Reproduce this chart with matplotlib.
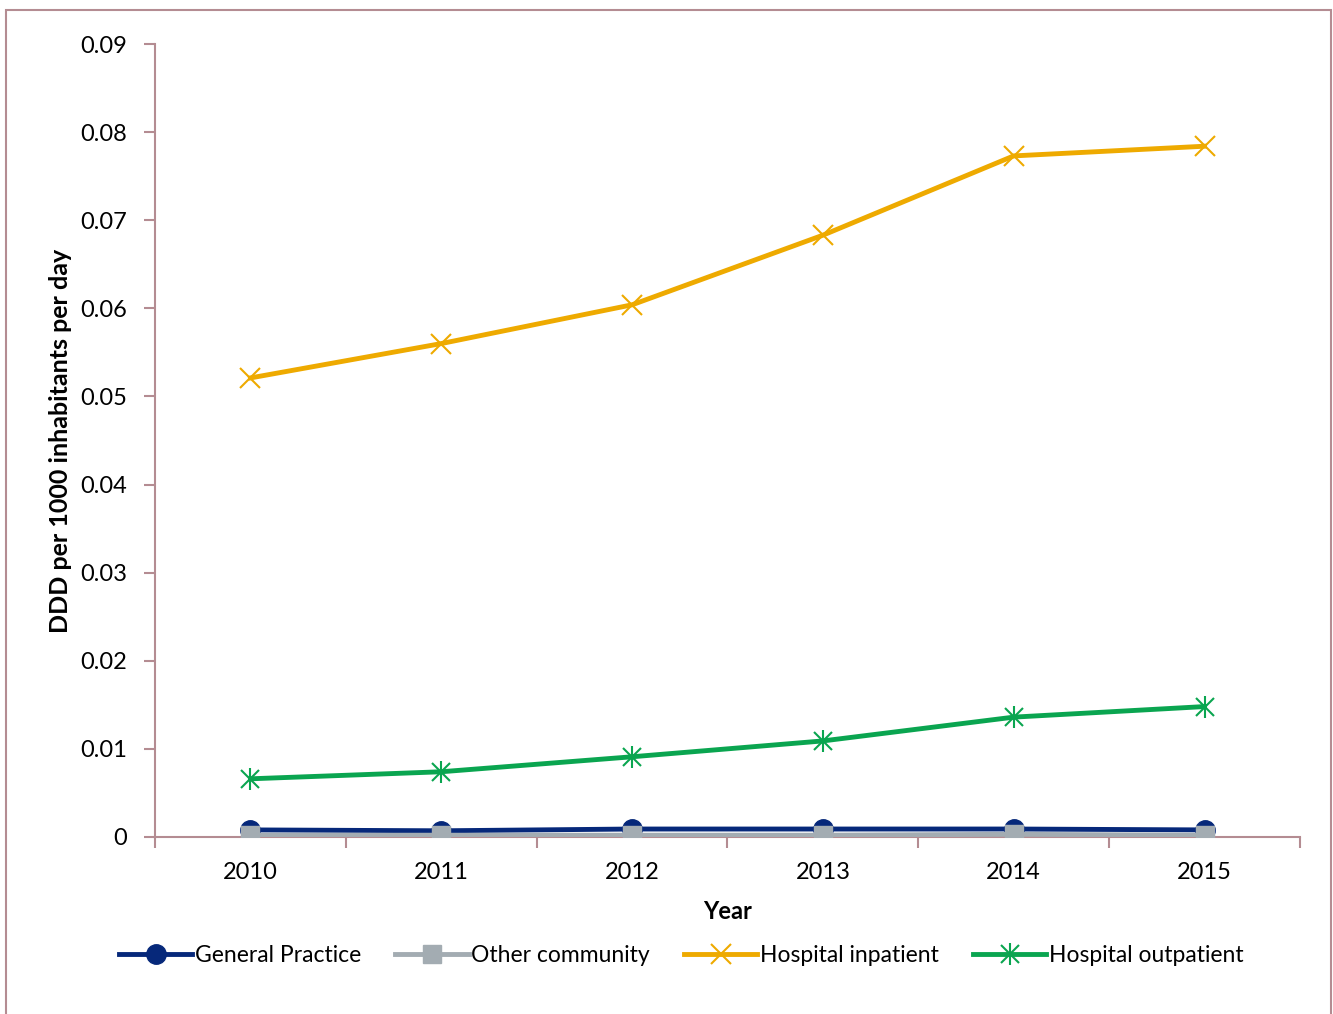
import matplotlib.pyplot as plt
from matplotlib.patches import Rectangle
from matplotlib.legend_handler import HandlerTuple

years = ["2010", "2011", "2012", "2013", "2014", "2015"]
general_practice = [0.0008, 0.0007, 0.0009, 0.0009, 0.0009, 0.0008]
other_community = [0.0002, 0.0002, 0.0002, 0.0002, 0.0003, 0.0002]
hospital_inpatient = [0.0521, 0.0560, 0.0604, 0.0683, 0.0773, 0.0784]
hospital_outpatient = [0.0066, 0.0074, 0.0091, 0.0109, 0.0136, 0.0148]

axis_col = "#b48c92"
plt.rcParams["font.family"] = ["Lato", "DejaVu Sans"]

fig = plt.figure(figsize=(13.33, 10.14), dpi=100)
ax = fig.add_axes([0.1163, 0.1746, 0.8589, 0.782])

x = list(range(len(years)))
gp, = ax.plot(x, general_practice, color="#06287a", lw=3.5, marker="o", ms=14, zorder=3)
oc, = ax.plot(x, other_community, color="#a3acb2", lw=3.5, marker="s", ms=13, zorder=4)
hi, = ax.plot(x, hospital_inpatient, color="#eeaa00", lw=3.5, marker="x", ms=14, mew=1.5, zorder=3)
ho, = ax.plot(x, hospital_outpatient, color="#0aa550", lw=3.5, marker="x", ms=13, mew=1.5, zorder=3)
ho_bar, = ax.plot(x, hospital_outpatient, color="#0aa550", lw=0, marker="|", ms=16, mew=1.5, zorder=3)

ax.set_xlim(-0.5, len(years) - 0.5)
ax.set_ylim(0, 0.09)
ax.set_yticks([i * 0.01 for i in range(10)])
ax.set_yticklabels(["0"] + [f"{i * 0.01:.2f}" for i in range(1, 10)])
ax.set_xticks(x)
ax.set_xticklabels(years)
ax.set_xticks([i - 0.5 for i in range(len(years) + 1)], minor=True)
ax.tick_params(axis="x", which="major", length=0, pad=18, labelsize=17)
ax.tick_params(axis="x", which="minor", length=8, color=axis_col, width=1.5, direction="out")
ax.tick_params(axis="y", length=8, color=axis_col, width=1.5, direction="out", pad=12, labelsize=17)

for s in ["top", "right"]:
    ax.spines[s].set_visible(False)
for s in ["left", "bottom"]:
    ax.spines[s].set_color(axis_col)
    ax.spines[s].set_linewidth(1.5)

ax.set_xlabel("Year", fontsize=17, fontweight="bold", labelpad=12)
ax.set_ylabel("DDD per 1000 inhabitants per day", fontsize=18, fontweight="bold", labelpad=6)

fig.legend(
    [gp, oc, hi, (ho, ho_bar)],
    ["General Practice", "Other community", "Hospital inpatient", "Hospital outpatient"],
    handler_map={tuple: HandlerTuple(ndivide=1, pad=0)},
    loc="center", bbox_to_anchor=(0.511, 0.058), ncol=4, frameon=False,
    fontsize=16.5, handlelength=3.2, handletextpad=0.1, columnspacing=1.5,
)

fig.patches.append(Rectangle((6 / 1333, -0.01), 1325 / 1333, 1 - 10 / 1014 + 0.01,
                             transform=fig.transFigure, fill=False,
                             edgecolor=axis_col, lw=1.5))

fig.savefig("out.png", dpi=100)
